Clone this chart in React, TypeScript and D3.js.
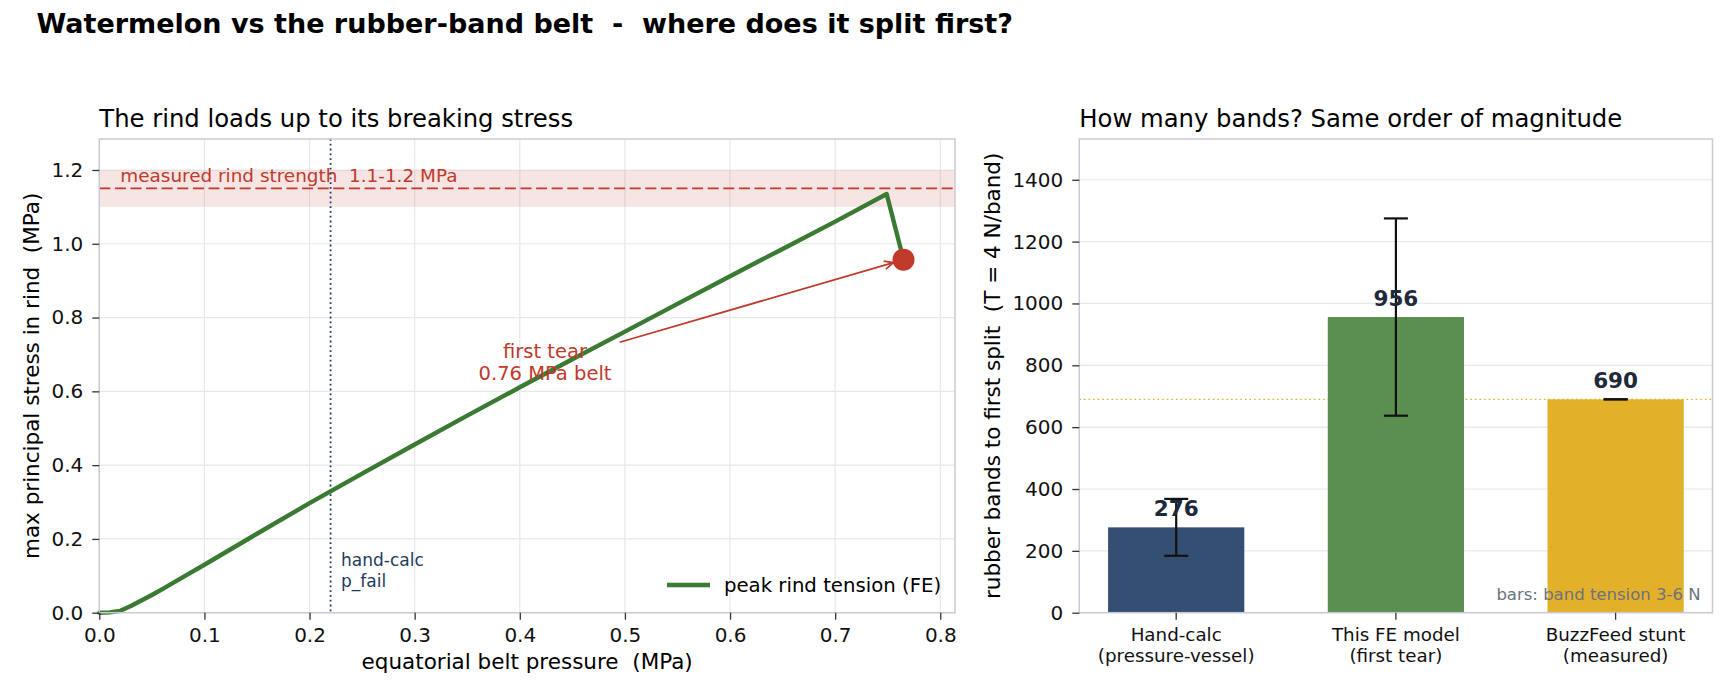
import { useEffect, useRef } from 'react';
import * as d3 from 'd3';

// left panel: FE sweep of belt pressure vs peak rind stress
const beltPressure = [0, 0.01, 0.02, 0.03, 0.04, 0.05, 0.06, 0.08, 0.1, 0.15, 0.2, 0.25, 0.3, 0.35, 0.4, 0.45, 0.5, 0.55, 0.6, 0.65, 0.7, 0.749, 0.765];
const rindStress = [0, 0.001, 0.005, 0.018, 0.033, 0.048, 0.064, 0.097, 0.13, 0.214, 0.297, 0.377, 0.456, 0.534, 0.611, 0.687, 0.762, 0.837, 0.912, 0.986, 1.06, 1.135, 0.957];
const tearPoint = [0.765, 0.957];
const rindStrengthBand = [1.1, 1.2];
const rindStrengthMid = 1.15;
const handCalcPressure = 0.22;
const leftXTicks = [0, 0.1, 0.2, 0.3, 0.4, 0.5, 0.6, 0.7, 0.8];
const leftYTicks = [0, 0.2, 0.4, 0.6, 0.8, 1.0, 1.2];
const tearLabelAt = [0.424, 0.674];
const arrowFrom = [0.495, 0.733];

// right panel: rubber band counts
const categories = [
    ['Hand-calc', '(pressure-vessel)'],
    ['This FE model', '(first tear)'],
    ['BuzzFeed stunt', '(measured)'],
];
const bandCounts = [276, 956, 690];
const bandLow = [184, 637, 690];
const bandHigh = [368, 1275, 690];
const barColors = ['#344f72', '#5a8f4f', '#e3b02a'];
const stuntCount = 690;
const rightYTicks = [0, 200, 400, 600, 800, 1000, 1200, 1400];

const FONT = '"DejaVu Sans", sans-serif';
const RED = '#c0392b';
const NAVY = '#1f3a5f';
const GREEN = '#3b7a32';
const SPINE = '#c9cad6';
const GRID = '#e7e7ec';

export default function App() {
    const ref = useRef<SVGSVGElement | null>(null);

    useEffect(() => {
        if (!ref.current) return;
        const svg = d3.select(ref.current);
        svg.selectAll('*').remove();
        svg.attr('width', 1736).attr('height', 700).style('font-family', FONT);

        svg.append('rect').attr('width', 1736).attr('height', 700).attr('fill', '#fff');

        svg.append('text')
            .attr('x', 36.5)
            .attr('y', 33)
            .style('font-size', '27px')
            .style('font-weight', 'bold')
            .style('white-space', 'pre')
            .attr('fill', '#000')
            .text('Watermelon vs the rubber-band belt  -  where does it split first?');

        // ---------- left panel ----------
        const L = { left: 99.3, right: 955, top: 139, bottom: 612.7 };
        const x = d3.scaleLinear().domain([0, 0.814]).range([L.left, L.right]);
        const y = d3.scaleLinear().domain([0, 1.284]).range([L.bottom, L.top]);

        const left = svg.append('g');

        left.append('text')
            .attr('x', L.left)
            .attr('y', 126.7)
            .style('font-size', '24.3px')
            .text('The rind loads up to its breaking stress');

        // grid
        left.selectAll('line.gx')
            .data(leftXTicks)
            .enter()
            .append('line')
            .attr('x1', (d) => x(d)).attr('x2', (d) => x(d))
            .attr('y1', L.top).attr('y2', L.bottom)
            .attr('stroke', GRID).attr('stroke-width', 1.2);
        left.selectAll('line.gy')
            .data(leftYTicks)
            .enter()
            .append('line')
            .attr('x1', L.left).attr('x2', L.right)
            .attr('y1', (d) => y(d)).attr('y2', (d) => y(d))
            .attr('stroke', GRID).attr('stroke-width', 1.2);

        // measured strength band
        left.append('rect')
            .attr('x', L.left)
            .attr('width', L.right - L.left)
            .attr('y', y(rindStrengthBand[1]))
            .attr('height', y(rindStrengthBand[0]) - y(rindStrengthBand[1]))
            .attr('fill', RED)
            .attr('fill-opacity', 0.13);
        left.append('line')
            .attr('x1', L.left).attr('x2', L.right)
            .attr('y1', y(rindStrengthMid)).attr('y2', y(rindStrengthMid))
            .attr('stroke', RED).attr('stroke-width', 1.8)
            .attr('stroke-dasharray', '11,4.6');
        left.append('text')
            .attr('x', x(0.02))
            .attr('y', y(rindStrengthMid) - 6)
            .attr('fill', RED)
            .style('font-size', '18.4px')
            .style('white-space', 'pre')
            .text('measured rind strength  1.1-1.2 MPa');

        // hand-calc line
        left.append('line')
            .attr('x1', x(handCalcPressure)).attr('x2', x(handCalcPressure))
            .attr('y1', L.top).attr('y2', L.bottom)
            .attr('stroke', NAVY).attr('stroke-width', 1.8)
            .attr('stroke-dasharray', '1.8,3');
        const hc = left.append('text')
            .attr('fill', NAVY)
            .style('font-size', '17px');
        hc.append('tspan').attr('x', x(0.23)).attr('y', y(0.127)).text('hand-calc');
        hc.append('tspan').attr('x', x(0.23)).attr('y', y(0.127) + 21).text('p_fail');

        // FE curve
        const pts = beltPressure.map((p, i) => [p, rindStress[i]] as [number, number]);
        const line = d3.line<[number, number]>()
            .x((d) => x(d[0]))
            .y((d) => y(d[1]));
        left.append('path')
            .attr('d', line(pts))
            .attr('fill', 'none')
            .attr('stroke', GREEN)
            .attr('stroke-width', 4.4)
            .attr('stroke-linejoin', 'round')
            .attr('stroke-linecap', 'round');

        left.append('circle')
            .attr('cx', x(tearPoint[0]))
            .attr('cy', y(tearPoint[1]))
            .attr('r', 11)
            .attr('fill', RED);

        // annotation arrow
        const ax0 = x(arrowFrom[0]);
        const ay0 = y(arrowFrom[1]);
        const tx = x(tearPoint[0]);
        const ty = y(tearPoint[1]);
        const ang = Math.atan2(ty - ay0, tx - ax0);
        const ax1 = tx - 10.5 * Math.cos(ang);
        const ay1 = ty - 10.5 * Math.sin(ang);
        left.append('line')
            .attr('x1', ax0).attr('y1', ay0)
            .attr('x2', ax1).attr('y2', ay1)
            .attr('stroke', RED).attr('stroke-width', 1.7);
        const head = d3.path();
        const hl = 9;
        const hw = 4.2;
        head.moveTo(ax1 - hl * Math.cos(ang) + hw * Math.sin(ang), ay1 - hl * Math.sin(ang) - hw * Math.cos(ang));
        head.lineTo(ax1, ay1);
        head.lineTo(ax1 - hl * Math.cos(ang) - hw * Math.sin(ang), ay1 - hl * Math.sin(ang) + hw * Math.cos(ang));
        left.append('path')
            .attr('d', head.toString())
            .attr('fill', 'none')
            .attr('stroke', RED)
            .attr('stroke-width', 1.7);

        const tl = left.append('text')
            .attr('fill', RED)
            .attr('text-anchor', 'middle')
            .style('font-size', '19.5px');
        tl.append('tspan').attr('x', x(tearLabelAt[0])).attr('y', y(tearLabelAt[1]) - 6).text('first tear');
        tl.append('tspan').attr('x', x(tearLabelAt[0])).attr('y', y(tearLabelAt[1]) + 16).text('0.76 MPa belt');

        // legend
        left.append('line')
            .attr('x1', 667).attr('x2', 710)
            .attr('y1', 585).attr('y2', 585)
            .attr('stroke', GREEN).attr('stroke-width', 4.4);
        left.append('text')
            .attr('x', 724)
            .attr('y', 592)
            .style('font-size', '19.7px')
            .text('peak rind tension (FE)');

        // spines
        left.append('rect')
            .attr('x', L.left).attr('y', L.top)
            .attr('width', L.right - L.left).attr('height', L.bottom - L.top)
            .attr('fill', 'none').attr('stroke', SPINE).attr('stroke-width', 1.5);

        // axes
        const xAxis = left.append('g')
            .attr('transform', `translate(0,${L.bottom})`)
            .call(d3.axisBottom(x).tickValues(leftXTicks).tickFormat(d3.format('.1f')).tickSize(7).tickPadding(8));
        const yAxis = left.append('g')
            .attr('transform', `translate(${L.left},0)`)
            .call(d3.axisLeft(y).tickValues(leftYTicks).tickFormat(d3.format('.1f')).tickSize(7).tickPadding(9));
        [xAxis, yAxis].forEach((g) => {
            g.select('.domain').remove();
            g.selectAll('line').attr('stroke', '#333').attr('stroke-width', 1.3);
            g.selectAll('text').attr('fill', '#111').style('font-size', '20px').style('font-family', FONT);
        });

        left.append('text')
            .attr('x', (L.left + L.right) / 2)
            .attr('y', 669)
            .attr('text-anchor', 'middle')
            .style('font-size', '21.5px')
            .style('white-space', 'pre')
            .text('equatorial belt pressure  (MPa)');
        left.append('text')
            .attr('transform', `translate(39,${(L.top + L.bottom) / 2}) rotate(-90)`)
            .attr('text-anchor', 'middle')
            .style('font-size', '21.5px')
            .style('white-space', 'pre')
            .text('max principal stress in rind  (MPa)');

        // ---------- right panel ----------
        const R = { left: 1079.3, right: 1712.5, top: 139, bottom: 612.7 };
        const xb = d3.scaleLinear().domain([-0.441, 2.441]).range([R.left, R.right]);
        const yb = d3.scaleLinear().domain([0, 1531.8]).range([R.bottom, R.top]);
        const barW = xb(0.31) - xb(-0.31);

        const right = svg.append('g');

        right.append('text')
            .attr('x', R.left)
            .attr('y', 126.7)
            .style('font-size', '24.3px')
            .text('How many bands? Same order of magnitude');

        right.selectAll('line.gy')
            .data(rightYTicks)
            .enter()
            .append('line')
            .attr('x1', R.left).attr('x2', R.right)
            .attr('y1', (d) => yb(d)).attr('y2', (d) => yb(d))
            .attr('stroke', GRID).attr('stroke-width', 1.2);

        right.append('line')
            .attr('x1', R.left).attr('x2', R.right)
            .attr('y1', yb(stuntCount)).attr('y2', yb(stuntCount))
            .attr('stroke', '#d4b53a').attr('stroke-width', 1.3)
            .attr('stroke-dasharray', '1.6,3');

        right.selectAll('rect.bar')
            .data(bandCounts)
            .enter()
            .append('rect')
            .attr('x', (_, i) => xb(i) - barW / 2)
            .attr('width', barW)
            .attr('y', (d) => yb(d))
            .attr('height', (d) => yb(0) - yb(d))
            .attr('fill', (_, i) => barColors[i]);

        // error bars
        bandCounts.forEach((_, i) => {
            const cx = xb(i);
            const eb = right.append('g').attr('stroke', '#111').attr('stroke-width', 2.2);
            eb.append('line').attr('x1', cx).attr('x2', cx).attr('y1', yb(bandLow[i])).attr('y2', yb(bandHigh[i]));
            [bandLow[i], bandHigh[i]].forEach((v) => {
                eb.append('line').attr('x1', cx - 12).attr('x2', cx + 12).attr('y1', yb(v)).attr('y2', yb(v));
            });
        });

        right.selectAll('text.val')
            .data(bandCounts)
            .enter()
            .append('text')
            .attr('x', (_, i) => xb(i))
            .attr('y', (d) => yb(d) - 11)
            .attr('text-anchor', 'middle')
            .attr('fill', '#1e2939')
            .style('font-size', '21.5px')
            .style('font-weight', 'bold')
            .text((d) => d);

        right.append('text')
            .attr('x', 1700.5)
            .attr('y', 599.5)
            .attr('text-anchor', 'end')
            .attr('fill', '#6b7280')
            .style('font-size', '16.5px')
            .text('bars: band tension 3-6 N');

        right.append('rect')
            .attr('x', R.left).attr('y', R.top)
            .attr('width', R.right - R.left).attr('height', R.bottom - R.top)
            .attr('fill', 'none').attr('stroke', SPINE).attr('stroke-width', 1.5);

        const ybAxis = right.append('g')
            .attr('transform', `translate(${R.left},0)`)
            .call(d3.axisLeft(yb).tickValues(rightYTicks).tickFormat(d3.format('d')).tickSize(7).tickPadding(9));
        ybAxis.select('.domain').remove();
        ybAxis.selectAll('line').attr('stroke', '#333').attr('stroke-width', 1.3);
        ybAxis.selectAll('text').attr('fill', '#111').style('font-size', '20px').style('font-family', FONT);

        categories.forEach((lines, i) => {
            const cx = xb(i);
            right.append('line')
                .attr('x1', cx).attr('x2', cx)
                .attr('y1', R.bottom).attr('y2', R.bottom + 7)
                .attr('stroke', '#333').attr('stroke-width', 1.3);
            const t = right.append('text')
                .attr('text-anchor', 'middle')
                .attr('fill', '#111')
                .style('font-size', '18.3px');
            lines.forEach((s, k) => {
                t.append('tspan').attr('x', cx).attr('y', 640.7 + k * 21).text(s);
            });
        });

        right.append('text')
            .attr('transform', `translate(999.5,${(R.top + R.bottom) / 2}) rotate(-90)`)
            .attr('text-anchor', 'middle')
            .style('font-size', '21.5px')
            .style('white-space', 'pre')
            .text('rubber bands to first split  (T = 4 N/band)');
    }, []);

    return <svg ref={ref} style={{ position: 'absolute', left: 0, top: 0, display: 'block' }} />;
}
